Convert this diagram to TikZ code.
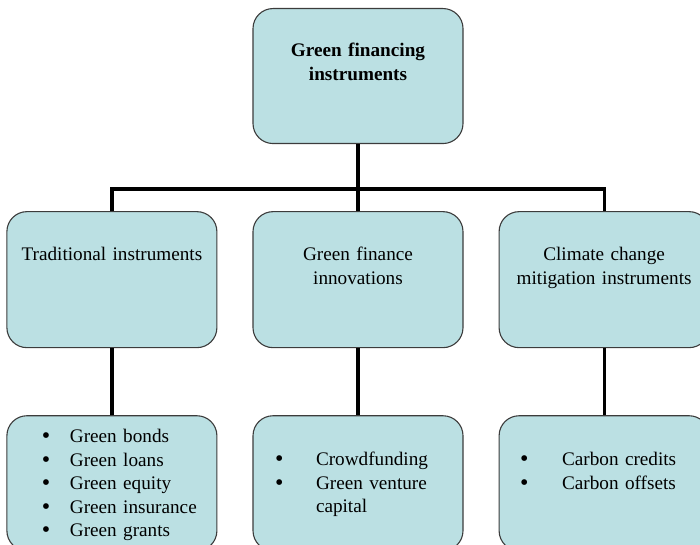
\documentclass[tikz,border=0pt]{standalone}
\usepackage{fontspec}
\setmainfont{Liberation Serif}
\usepackage{tikz}
\usetikzlibrary{positioning}
\definecolor{cceleste}{HTML}{BBE0E3}
\definecolor{cborde}{HTML}{3C3C3C}
\newcommand{\itm}[2]{\hspace*{#1}\makebox[#2][l]{\raisebox{-1pt}{\scalebox{1.25}{\textbullet}}}}
\tikzset{
  caja/.style={rectangle, rounded corners=20pt, draw=cborde, line width=1.1pt, fill=cceleste,
    text width=210pt, inner xsep=0pt, inner ysep=0pt, align=center, anchor=north,
    font=\fontsize{19.2}{23.5}\selectfont},
  cajat/.style={caja, text height=48pt, text depth=87pt,
    font=\fontsize{19.2}{23.5}\selectfont\bfseries},
  cajam/.style={caja, text height=49pt, text depth=87pt},
  cajal/.style={caja, align=left, text height=50pt, text depth=85pt},
  linea/.style={line width=3.2pt, draw=black},
}
\begin{document}
\begin{tikzpicture}[x=1pt, y=1pt, node distance=67pt and 35pt]
  \useasboundingbox (0,0) rectangle (700,-545);
  \node[cajat] (fin) at (358,-8) {Green financing\\instruments};
  \node[cajam, below=of fin] (inno) {Green finance\\innovations};
  \node[cajam, left=of inno] (trad) {Traditional instruments};
  \node[cajam, right=of inno] (clim) {Climate change\\mitigation instruments};
  \node[cajal, below=of trad, text height=27pt, text depth=108pt] (tradl)
    {\itm{35pt}{28pt}Green bonds\\\itm{35pt}{28pt}Green loans\\\itm{35pt}{28pt}Green equity\\
     \itm{35pt}{28pt}Green insurance\\\itm{35pt}{28pt}Green grants};
  \node[cajal, below=of inno] (innol)
    {\itm{22pt}{41pt}Crowdfunding\\\itm{22pt}{41pt}Green venture\\\hspace*{63pt}capital};
  \node[cajal, below=of clim] (climl)
    {\itm{21pt}{42pt}Carbon credits\\\itm{21pt}{42pt}Carbon offsets};
  % connectors
  \coordinate[below=45pt of fin.south] (hub);
  \draw[linea] (fin) -- (hub);
  \draw[linea] (trad) |- (hub) -| (clim);
  \draw[linea] (hub) -- (inno);
  \draw[linea] (trad) -- (tradl); \draw[linea] (inno) -- (innol); \draw[linea] (clim) -- (climl);
\end{tikzpicture}
\end{document}
